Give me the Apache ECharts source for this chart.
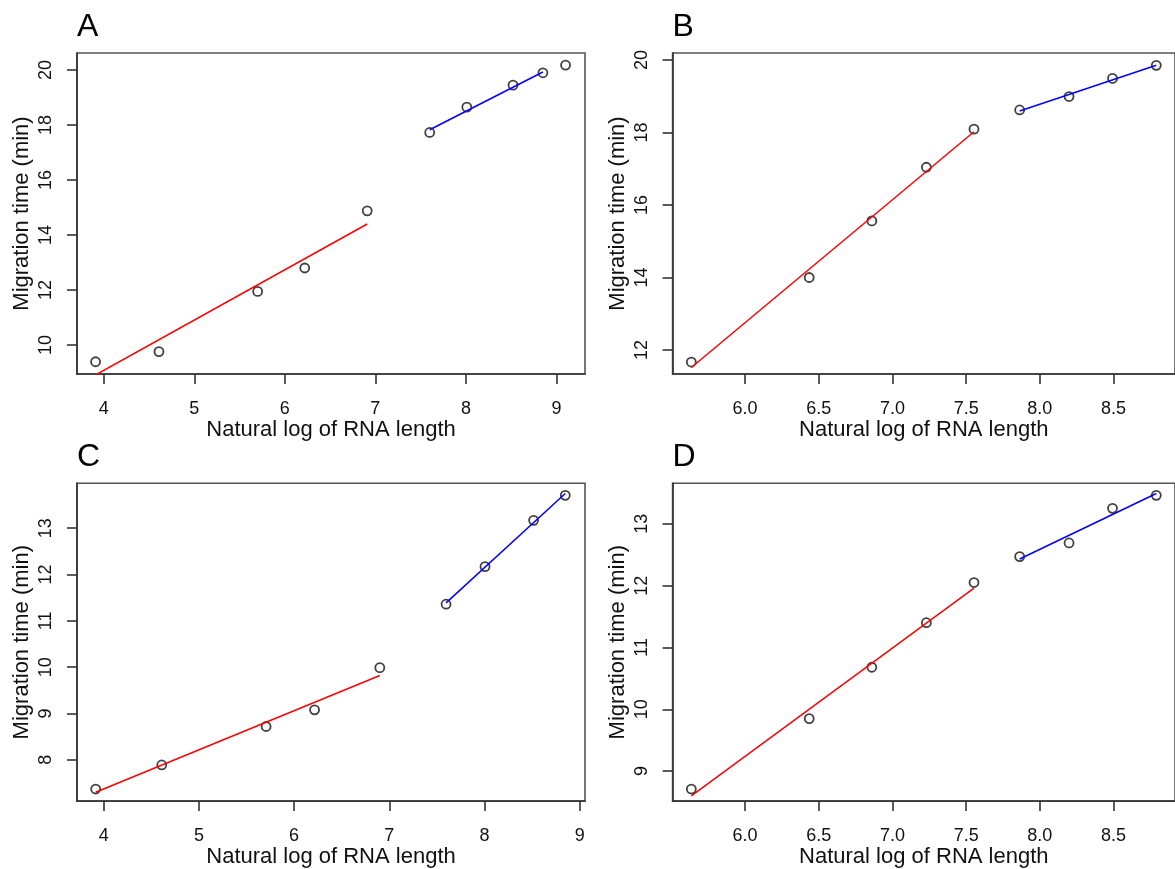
<!DOCTYPE html>
<html>
<head>
<meta charset="utf-8">
<title>Migration time vs. log RNA length</title>
<script src="https://cdn.jsdelivr.net/npm/echarts@6/dist/echarts.min.js"></script>
<style>
  html, body { margin: 0; padding: 0; background: #ffffff; }
  #chart { width: 1175px; height: 869px; }
</style>
</head>
<body>
<div id="chart"></div>
<script>
// Panel letters
const panelLetters = ['A', 'B', 'C', 'D'];

// Panel A: ln(length) vs migration time, with two fitted segments
const lenA  = [3.91, 4.61, 5.70, 6.22, 6.91, 7.60, 8.01, 8.52, 8.85, 9.10];
const timeA = [9.39, 9.76, 11.95, 12.80, 14.88, 17.73, 18.65, 19.45, 19.90, 20.18];
const redFitAX  = [3.91, 6.91];
const redFitAY  = [8.91, 14.40];
const blueFitAX = [7.60, 8.85];
const blueFitAY = [17.83, 19.93];

// Panel B
const lenB  = [5.635, 6.435, 6.86, 7.23, 7.553, 7.863, 8.198, 8.493, 8.79];
const timeB = [11.67, 14.00, 15.56, 17.04, 18.09, 18.62, 18.99, 19.49, 19.85];
const redFitBX  = [5.635, 7.553];
const redFitBY  = [11.52, 18.02];
const blueFitBX = [7.863, 8.79];
const blueFitBY = [18.59, 19.85];

// Panel C
const lenC  = [3.916, 4.61, 5.706, 6.215, 6.90, 7.596, 8.005, 8.515, 8.848];
const timeC = [7.37, 7.89, 8.72, 9.08, 9.99, 11.36, 12.17, 13.17, 13.71];
const redFitCX  = [3.916, 6.90];
const redFitCY  = [7.30, 9.82];
const blueFitCX = [7.596, 8.848];
const blueFitCY = [11.39, 13.75];

// Panel D
const lenD  = [5.635, 6.435, 6.86, 7.23, 7.553, 7.863, 8.198, 8.493, 8.79];
const timeD = [8.71, 9.85, 10.68, 11.40, 12.05, 12.47, 12.69, 13.25, 13.46];
const redFitDX  = [5.635, 7.553];
const redFitDY  = [8.60, 11.96];
const blueFitDX = [7.863, 8.79];
const blueFitDY = [12.43, 13.49];

// Tick values
const xTicksAC = [4, 5, 6, 7, 8, 9];
const xTicksBD = [6.0, 6.5, 7.0, 7.5, 8.0, 8.5];
const yTicksA  = [10, 12, 14, 16, 18, 20];
const yTicksB  = [12, 14, 16, 18, 20];
const yTicksC  = [8, 9, 10, 11, 12, 13];
const yTicksD  = [9, 10, 11, 12, 13];

const xTitle = 'Natural log of RNA length';
const yTitle = 'Migration time (min)';

const FONT = '"Liberation Sans", Arial, Helvetica, sans-serif';
const INK = '#111111';

const zip = (xs, ys) => xs.map((x, i) => [x, ys[i]]);

const panels = [
  { letter: panelLetters[0], x: lenA, y: timeA, rx: redFitAX, ry: redFitAY, bx: blueFitAX, by: blueFitAY,
    xTicks: xTicksAC, yTicks: yTicksA, xDec: 0,
    xRange: [3.705, 9.315], yRange: [8.945, 20.62],
    rect: { left: 77, top: 53, width: 508, height: 321 } },
  { letter: panelLetters[1], x: lenB, y: timeB, rx: redFitBX, ry: redFitBY, bx: blueFitBX, by: blueFitBY,
    xTicks: xTicksBD, yTicks: yTicksB, xDec: 1,
    xRange: [5.508, 8.917], yRange: [11.34, 20.19],
    rect: { left: 672.6, top: 53, width: 507, height: 321 } },
  { letter: panelLetters[2], x: lenC, y: timeC, rx: redFitCX, ry: redFitCY, bx: blueFitCX, by: blueFitCY,
    xTicks: xTicksAC, yTicks: yTicksC, xDec: 0,
    xRange: [3.72, 9.055], yRange: [7.11, 13.97],
    rect: { left: 77, top: 483.3, width: 508, height: 321 } },
  { letter: panelLetters[3], x: lenD, y: timeD, rx: redFitDX, ry: redFitDY, bx: blueFitDX, by: blueFitDY,
    xTicks: xTicksBD, yTicks: yTicksD, xDec: 1,
    xRange: [5.508, 8.917], yRange: [8.515, 13.655],
    rect: { left: 672.6, top: 483.3, width: 507, height: 321 } }
];

const option = {
  animation: false,
  backgroundColor: '#ffffff',
  textStyle: { fontFamily: FONT },
  title: [], grid: [], xAxis: [], yAxis: [], series: []
};

panels.forEach((p, i) => {
  option.title.push({
    text: p.letter,
    left: p.rect.left,
    top: p.rect.top - 42,
    padding: 0,
    textStyle: { fontFamily: FONT, fontSize: 32, fontWeight: 'normal', color: '#000' }
  });
  option.grid.push({
    left: p.rect.left, top: p.rect.top, width: p.rect.width, height: p.rect.height,
    show: true, borderColor: '#555', borderWidth: 1.6, backgroundColor: 'transparent'
  });
  option.xAxis.push({
    type: 'value', gridIndex: i, min: p.xRange[0], max: p.xRange[1],
    name: xTitle, nameLocation: 'middle', nameGap: 43,
    nameTextStyle: { fontFamily: FONT, fontSize: 22, color: INK },
    axisLine: { show: true, onZero: false, lineStyle: { color: '#333', width: 1.6 } },
    axisTick: { show: true, length: 10, inside: false, customValues: p.xTicks, lineStyle: { color: '#333', width: 1.6 } },
    axisLabel: { show: true, margin: 26, customValues: p.xTicks, fontFamily: FONT, fontSize: 18, color: INK,
      formatter: v => Number(v).toFixed(p.xDec) },
    splitLine: { show: false }
  });
  option.yAxis.push({
    type: 'value', gridIndex: i, min: p.yRange[0], max: p.yRange[1],
    name: yTitle, nameLocation: 'middle', nameGap: 44,
    nameTextStyle: { fontFamily: FONT, fontSize: 22, color: INK },
    axisLine: { show: true, onZero: false, lineStyle: { color: '#333', width: 1.6 } },
    axisTick: { show: true, length: 10, inside: false, customValues: p.yTicks, lineStyle: { color: '#333', width: 1.6 } },
    axisLabel: { show: true, rotate: 90, margin: 22, customValues: p.yTicks, fontFamily: FONT, fontSize: 18, color: INK,
      formatter: v => String(Math.round(v)) },
    splitLine: { show: false }
  });
  option.series.push({
    type: 'scatter', xAxisIndex: i, yAxisIndex: i, z: 2,
    data: zip(p.x, p.y), symbol: 'circle', symbolSize: 9,
    itemStyle: { color: 'rgba(0,0,0,0)', borderColor: '#111', borderWidth: 1.8 }
  });
  option.series.push({
    type: 'line', xAxisIndex: i, yAxisIndex: i, z: 3, clip: true,
    data: zip(p.rx, p.ry), showSymbol: false, symbol: 'none',
    lineStyle: { color: '#ff0000', width: 1.5 }
  });
  option.series.push({
    type: 'line', xAxisIndex: i, yAxisIndex: i, z: 3, clip: true,
    data: zip(p.bx, p.by), showSymbol: false, symbol: 'none',
    lineStyle: { color: '#0000ff', width: 1.5 }
  });
});

const chart = echarts.init(document.getElementById('chart'), null, { renderer: 'canvas' });
chart.setOption(option);
</script>
</body>
</html>
